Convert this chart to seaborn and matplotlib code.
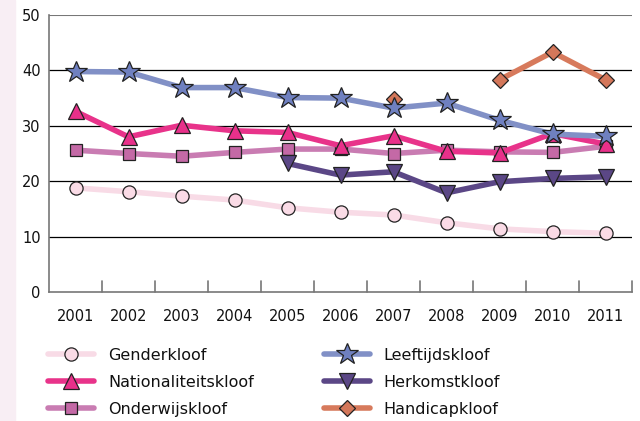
import numpy as np
import pandas as pd
import seaborn as sns
import matplotlib.pyplot as plt
from matplotlib.patches import Rectangle

years = ['2001', '2002', '2003', '2004', '2005', '2006', '2007', '2008', '2009', '2010', '2011']
nan = np.nan

# waarden per kloof
genderkloof = [18.8, 18.1, 17.3, 16.6, 15.2, 14.4, 13.9, 12.5, 11.4, 10.9, 10.6]
nationaliteitskloof = [32.6, 28.0, 30.1, 29.1, 28.8, 26.4, 28.2, 25.4, 25.1, 28.6, 26.7]
onderwijskloof = [25.6, 25.0, 24.5, 25.2, 25.8, 25.8, 25.0, 25.6, 25.3, 25.2, 26.3]
leeftijdskloof = [39.8, 39.7, 36.9, 36.9, 35.1, 35.0, 33.2, 34.1, 31.0, 28.5, 28.1]
herkomstkloof = [nan, nan, nan, nan, 23.2, 21.1, 21.7, 17.9, 19.9, 20.5, 20.8]
handicapkloof = [nan, nan, nan, nan, nan, nan, 34.8, nan, 38.3, 43.3, 38.3]

series = [
    # naam, waarden, lijnkleur, vulkleur, marker, markergrootte
    ('Genderkloof', genderkloof, '#f8dbe6', '#fadbe6', 'o', 9.5),
    ('Onderwijskloof', onderwijskloof, '#c97cb2', '#c469a6', 's', 8.5),
    ('Herkomstkloof', herkomstkloof, '#5b4786', '#5b4786', 'v', 11),
    ('Handicapkloof', handicapkloof, '#d77a5c', '#d4775a', 'D', 8.5),
    ('Nationaliteitskloof', nationaliteitskloof, '#e8338a', '#e8308a', '^', 11),
    ('Leeftijdskloof', leeftijdskloof, '#8190c6', '#6f80c0', '*', 16.5),
]
legend_order = ['Genderkloof', 'Nationaliteitskloof', 'Onderwijskloof',
                'Leeftijdskloof', 'Herkomstkloof', 'Handicapkloof']

sns.set_style('white')
plt.rcParams['font.family'] = ['DejaVu Sans']

fig = plt.figure(figsize=(6.4, 4.21), dpi=100)
fig.patches.append(Rectangle((0, 0), 15 / 640, 1, transform=fig.transFigure,
                             color='#f8eef4', zorder=0))
ax = fig.add_axes([49 / 640, 129 / 421, 583 / 640, 277 / 421])

x = np.arange(len(years))
handles = {}
for i, (name, vals, lc, fc, mk, ms) in enumerate(series):
    df = pd.DataFrame({'x': x, 'y': vals})
    # lijnstukken tussen ontbrekende jaren apart tekenen
    df['seg'] = df['y'].isna().cumsum()
    df = df.dropna()
    for seg, part in df.groupby('seg'):
        sns.lineplot(data=part, x='x', y='y', ax=ax, color=lc, lw=4.0,
                     marker=mk, markersize=ms, markerfacecolor=fc,
                     markeredgecolor='#222222', markeredgewidth=0.9,
                     zorder=3 + i, legend=False)
        handles[name] = ax.lines[-1]

ax.set_xlim(-0.5, 10.5)
ax.set_ylim(0, 50)
ax.set_yticks([0, 10, 20, 30, 40, 50])
ax.set_xticks(x)
ax.set_xticklabels(years)
ax.set_xlabel('')
ax.set_ylabel('')
ax.tick_params(axis='x', length=0, pad=12, labelsize=10.5, labelcolor='#111111')
ax.tick_params(axis='y', length=0, pad=6, labelsize=10.5, labelcolor='#111111')
for y in [10, 20, 30, 40]:
    ax.axhline(y, color='black', lw=0.9, zorder=1)
ax.axhline(50, color='#777777', lw=1.5, zorder=1)
# maatstreepjes tussen de jaren
for b in np.arange(0.5, 10.6, 1):
    ax.plot([b, b], [0, 1.9], color='#777777', lw=1.2, clip_on=False, zorder=2)
for side in ['top', 'right']:
    ax.spines[side].set_visible(False)
for side in ['left', 'bottom']:
    ax.spines[side].set_color('#777777')
    ax.spines[side].set_linewidth(1.2)

leg = fig.legend([handles[n] for n in legend_order], legend_order,
                 loc='upper left', bbox_to_anchor=(48 / 640, 1 - 348 / 421),
                 ncol=2, frameon=False, fontsize=11.5, handlelength=2.9,
                 handletextpad=0.85, columnspacing=4.4, labelspacing=0.74,
                 borderaxespad=0, borderpad=0)
for t in leg.get_texts():
    t.set_color('#111111')

fig.savefig('out.png', dpi=100)
